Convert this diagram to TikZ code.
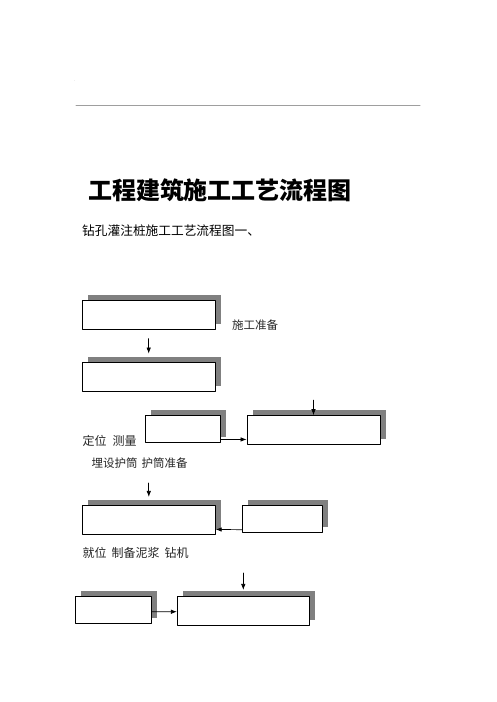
\documentclass[tikz,border=0pt]{standalone}
\usepackage{fontspec}
\newfontfamily\cjk{Noto Sans CJK SC}
\usetikzlibrary{shadows,arrows.meta}

\begin{document}
\begin{tikzpicture}[x=1pt,y=-1pt,line cap=round,line join=round,
  stepbox/.style={draw=black,fill=white,line width=0.8pt,inner sep=0pt,
    drop shadow={shadow xshift=5.5pt,shadow yshift=5.5pt,fill=black!50,opacity=1}},
  flow/.style={line width=0.7pt,-{Latex[length=6pt,width=4.5pt]}},
  note/.style={anchor=west,inner sep=0pt,text=black!85,font=\cjk\fontsize{12}{14}\selectfont}]
  \useasboundingbox (0,0) rectangle (496,702);

  % header rule and page mark
  \node[text=black!35,inner sep=0pt,font=\tiny] (mark) at (75,81) {.};
  \draw[black!38,line width=1pt] (76,105) -- (420,105);

  % titles
  \node[font=\cjk\bfseries\fontsize{24}{28}\selectfont] (title) at (220,190) {工程建筑施工工艺流程图};
  \node[anchor=west,inner sep=0pt,font=\cjk\fontsize{12.7}{15}\selectfont] (sub) at (82,231) {钻孔灌注桩施工工艺流程图一、};

  % boxes
  \node[stepbox,minimum width=133pt,minimum height=29pt] (prep) at (148.7,314.5) {};
  \node[stepbox,minimum width=133pt,minimum height=29pt] (survey) at (148.7,376.5) {};
  \node[stepbox,minimum width=75pt,minimum height=26.5pt] (locate) at (183.3,428.8) {};
  \node[stepbox,minimum width=133pt,minimum height=28.5pt] (casing) at (313.5,429.8) {};
  \node[stepbox,minimum width=133pt,minimum height=28.7pt] (rig) at (148.8,519.7) {};
  \node[stepbox,minimum width=80pt,minimum height=27pt] (mud) at (282.7,518.8) {};
  \node[stepbox,minimum width=76pt,minimum height=27pt] (drill) at (113.5,609.8) {};
  \node[stepbox,minimum width=132pt,minimum height=28.7pt] (hole) at (243.3,610.7) {};

  % labels
  \node[note,font=\cjk\fontsize{11.5}{14}\selectfont] (l1) at (232,325) {施工准备};
  \node[note,font=\cjk\fontsize{12}{14}\selectfont] (l2) at (82.5,441) {定位\hspace{6pt}测量};
  \node[note,font=\cjk\fontsize{11.5}{14}\selectfont] (l3) at (91.5,463.5) {埋设护筒\hspace{4pt}护筒准备};
  \node[note,font=\cjk\fontsize{12}{14}\selectfont] (l4) at (82.5,552.5) {就位\hspace{5pt}制备泥浆\hspace{5pt}钻机};

  % arrows
  \draw[flow] ([yshift=23pt]survey.north) -- ([yshift=8pt]survey.north);
  \draw[flow] ([yshift=3pt]locate.south east) -- ([yshift=5pt]casing.south west);
  \draw[flow] ([yshift=15pt]casing.north) -- (casing.north);
  \draw[flow] ([yshift=22pt]rig.north) -- ([yshift=8pt]rig.north);
  \draw[flow] ([yshift=3pt]mud.south west) -- ([yshift=5pt]rig.south east);
  \draw[flow] ([yshift=23pt]hole.north) -- ([yshift=6pt]hole.north);
  \draw[flow] ([yshift=-2pt]drill.east) -- ([yshift=-1pt]hole.west);
\end{tikzpicture}
\end{document}
